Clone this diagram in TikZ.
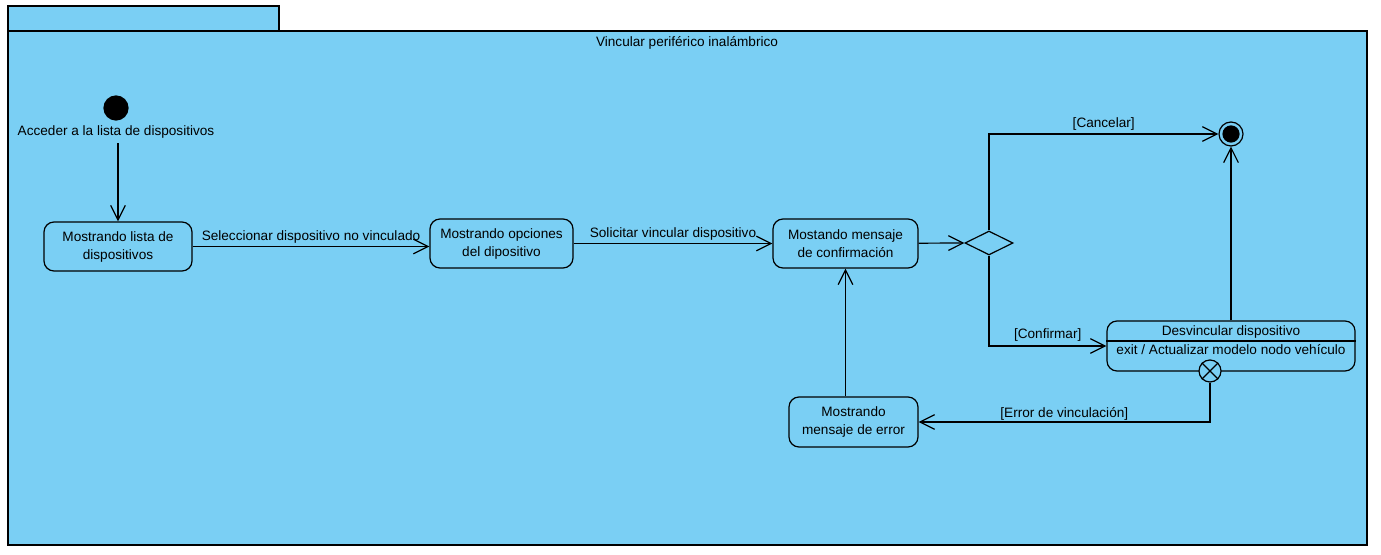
\documentclass[tikz,border=0pt]{standalone}
\usepackage{fontspec}
\setmainfont{Liberation Sans}
\usetikzlibrary{arrows.meta,shapes.geometric}
\definecolor{framefill}{RGB}{122,207,244}

\begin{document}
\begin{tikzpicture}[x=0.75pt,y=-0.75pt,line width=0.9pt,font=\fontsize{10.2}{13.5}\selectfont]
        %
        % `state' is used for the rounded boxes.
        % `trans' is used for the transitions (open arrow heads).
        % `decision' is the diamond, `pseudo' the start/end/exit points.
        \tikzstyle{state} = [draw,fill=framefill,rounded corners=7.5pt,align=center,inner sep=0pt]
        \tikzstyle{trans} = [-{Straight Barb[length=11pt,width=11pt]}]
        \tikzstyle{decision} = [draw,fill=framefill,diamond,aspect=2,minimum width=36pt,minimum height=18pt,inner sep=0pt]
        \tikzstyle{pseudo} = [draw,circle,inner sep=0pt]
        \useasboundingbox (0,0) rectangle (1381,555);
        %
        % Frame
        \draw[fill=framefill] (8,6) rectangle (279,31);
        \draw[fill=framefill] (8,31) rectangle (1367,545);
        \node (title) at (687,43) {Vincular periférico inalámbrico};
        %
        % Start
        \node[pseudo,fill=black,minimum size=18pt] (start) at (116,108) {};
        \node (acceder) at (116,132) {Acceder a la lista de dispositivos};
        %
        % Row 1
        \node[state,minimum width=111pt,minimum height=36.75pt] (lista) at (118,246.5) {Mostrando lista de\\dispositivos};
        \node[state,minimum width=107.25pt,minimum height=36.75pt] (opciones) at (501.5,243.5) {Mostrando opciones\\del dipositivo};
        \node[state,minimum width=108.75pt,minimum height=36.75pt] (confirm) at (845.5,243.5) {Mostando mensaje\\de confirmación};
        \node[decision] (dec) at (989,243) {};
        %
        % End
        \node[pseudo,minimum size=18pt] (final) at (1231,134) {};
        \node[pseudo,fill=black,minimum size=12pt] (finaldot) at (final) {};
        %
        % Desvincular
        \node[state,minimum width=186pt,minimum height=37.5pt] (desv) at (1231,346) {};
        \node (desvname) at (1231,332) {Desvincular dispositivo};
        \node (desvexit) at (1231,350) {exit / Actualizar modelo nodo vehículo};
        \draw (desv.west |- 0,341) -- (desv.east |- 0,341);
        \node[pseudo,fill=framefill,minimum size=16.5pt] (exitpt) at (1210,371) {};
        \draw (exitpt.45) -- (exitpt.225) (exitpt.135) -- (exitpt.315);
        %
        % Error
        \node[state,minimum width=96.75pt,minimum height=37.5pt] (error) at (853.5,422) {Mostrando\\mensaje de error};
        %
        % Transitions
        \draw[trans] (lista.north |- acceder.south) -- (lista.north);
        \draw[trans] (lista) -- (lista -| opciones.west)
            node[midway,above,inner sep=2pt] (lbl1) {Seleccionar dispositivo no vinculado};
        \draw[trans] (opciones) -- (confirm)
            node[midway,above,inner sep=2pt] (lbl2) {Solicitar vincular dispositivo};
        \draw[trans] (confirm) -- (dec.west);
        \draw[trans] (dec.north) |- (final.west)
            node[pos=0.75,above,inner sep=2pt] (lbl3) {[Cancelar]};
        \draw[trans] (dec.south) |- (desv.west)
            node[pos=0.75,above,inner sep=3pt] (lbl4) {[Confirmar]};
        \draw[trans] (desv.north) -- (final.south);
        \draw[trans] (exitpt.south) |- (error.east)
            node[pos=0.75,above,inner sep=1pt] (lbl5) {[Error de vinculación]};
        \draw[trans] (error.north -| confirm.south) -- (confirm.south);
        %
\end{tikzpicture}
\end{document}
